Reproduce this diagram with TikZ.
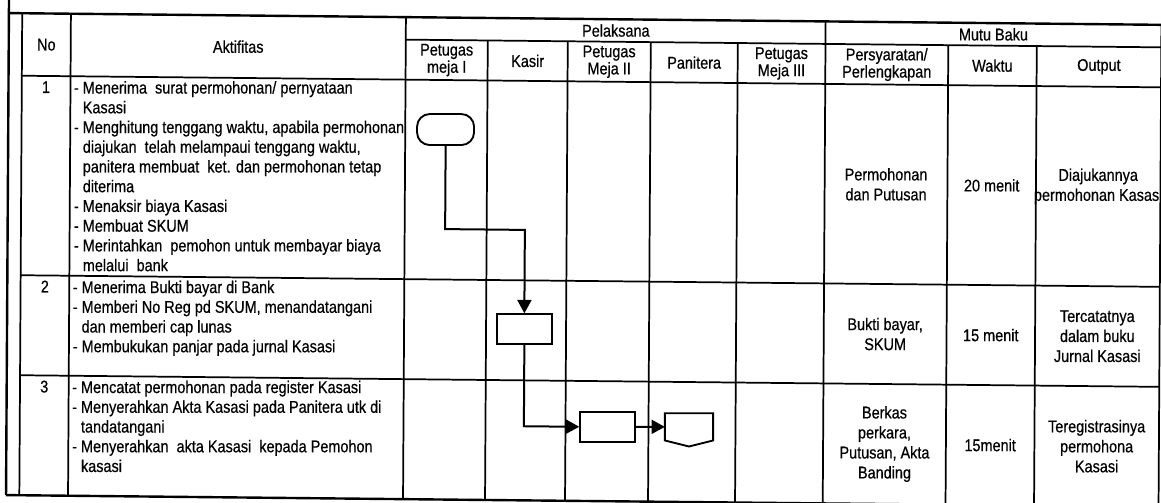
\documentclass[tikz,border=0pt]{standalone}
\usepackage{fontspec}
\setmainfont{Liberation Sans}[FakeStretch=0.85, FakeBold=0.5]
\usetikzlibrary{arrows.meta,calc}
\newcommand\ind{\hphantom{-\ }}
\begin{document}
\begin{tikzpicture}[x=0.75pt,y=-0.75pt,
  tl/.style={line width=1.3pt},
  ol/.style={line width=1.8pt},
  hdr/.style={font=\fontsize{12.75pt}{11.6pt}\selectfont, align=center, inner sep=0},
  cell/.style={font=\fontsize{12.75pt}{15pt}\selectfont, align=center, inner sep=0},
  act/.style={font=\fontsize{12.75pt}{14.8pt}\selectfont, align=left, anchor=north west, inner sep=0},
  num/.style={font=\fontsize{12.75pt}{14.8pt}\selectfont, anchor=base, inner sep=0},
  procbox/.style={draw, line width=1.4pt, minimum width=41.25pt, minimum height=22.5pt, inner sep=0},
  termbox/.style={draw, line width=1.4pt, rounded corners=9.5pt, minimum width=42.75pt, minimum height=23.25pt, inner sep=0},
  offbox/.style={inner sep=0, minimum width=35.8pt, minimum height=20pt},
  flow/.style={line width=1.5pt, -{Triangle[length=10pt,width=10.5pt]}},
]
\fill[white] (0,0) rectangle (1161,503);
\useasboundingbox (0,0) rectangle (1161,503);
\begin{scope}[cm={1,-0.0102,0.006,1,(0,0)}]
% frame and table
\draw[ol] (9,-8) -- (9,495);
\draw[ol] (9,13) -- (1161.5,13);
\draw[ol] (9,495) -- (1161.5,495);
\foreach \xx in {22.3,71,406,825.7,1161.5} \draw[tl] (\xx,13) -- (\xx,495);
\foreach \xx in {488,568,651,738,948.5,1037} \draw[tl] (\xx,35.5) -- (\xx,495);
\draw[tl] (406,35.5) -- (1161.5,35.5);
\foreach \yy in {75.5,275,375} \draw[tl] (22.3,\yy) -- (1161.5,\yy);
% headers
\node[hdr] (hno) at (46.6,44.25) {No};
\node[hdr] (hakt) at (238.5,44.25) {Aktifitas};
\node[hdr] (hpel) at (616,24.25) {Pelaksana};
\node[hdr] (hmutu) at (993.6,24.25) {Mutu Baku};
\node[hdr] (hp1) at (447,55.5) {Petugas\\meja I};
\node[hdr] (hkas) at (528,55.5) {Kasir};
\node[hdr] (hp2) at (609.5,55.5) {Petugas\\Meja II};
\node[hdr] (hpan) at (694.5,55.5) {Panitera};
\node[hdr] (hp3) at (781.8,55.5) {Petugas\\Meja III};
\node[hdr] (hpers) at (887.1,55.5) {Persyaratan/\\Perlengkapan};
\node[hdr] (hwak) at (992.75,55.5) {Waktu};
\node[hdr] (hout) at (1099.25,55.5) {Output};
% numbers
\node[num] (n1) at (46.6,92.5) {1};
\node[num] (n2) at (46.6,292) {2};
\node[num] (n3) at (46.6,392) {3};
% activities
\node[act] (a1) at (74.2,78.7) {\strut- Menerima\ \ surat permohonan/ pernyataan\\
\ind Kasasi\\
- Menghitung tenggang waktu, apabila permohonan\\
\ind diajukan\ \ telah melampaui tenggang waktu,\\
\ind panitera membuat\ \ ket. dan permohonan tetap\\
\ind diterima\\
- Menaksir biaya Kasasi\\
- Membuat SKUM\\
- Merintahkan\ \ pemohon untuk membayar biaya\\
\ind melalui\ \ bank};
\node[act] (a2) at (74.2,278.2) {\strut- Menerima Bukti bayar di Bank\\
- Memberi No Reg pd SKUM, menandatangani\\
\ind dan memberi cap lunas\\
- Membukukan panjar pada jurnal Kasasi};
\node[act] (a3) at (74.2,378.2) {\strut- Mencatat permohonan pada register Kasasi\\
- Menyerahkan Akta Kasasi pada Panitera utk di\\
\ind tandatangani\\
- Menyerahkan\ \ akta Kasasi\ \ kepada Pemohon\\
\ind kasasi};
% mutu baku cells
\node[cell] (r1p) at (887.1,175.25) {Permohonan\\dan Putusan};
\node[cell] (r1w) at (992.75,175.25) {20 menit};
\node[cell] (r1o) at (1099.25,175.25) {Diajukannya\\permohonan Kasasi};
\node[cell] (r2p) at (887.1,325) {Bukti bayar,\\SKUM};
\node[cell] (r2w) at (992.75,325) {15 menit};
\node[cell] (r2o) at (1099.25,325) {Tercatatnya\\dalam buku\\Jurnal Kasasi};
\node[cell] (r3p) at (887.1,435) {Berkas\\perkara,\\Putusan, Akta\\Banding};
\node[cell] (r3w) at (992.75,435) {15menit};
\node[cell] (r3o) at (1099.25,435) {Teregistrasinya\\permohona\\Kasasi};
% flow shapes
\node[termbox] (t1) at (446.3,125) {};
\node[procbox] (k1) at (526.2,323.8) {};
\node[procbox] (p2) at (610.1,420.5) {};
\node[offbox] (off) at (691.4,419.75) {};
\draw[line width=1.4pt, line join=miter] (off.north west) -- (off.north east) -- (off.south east) -- ($(off.south)+(0,6)$) -- (off.south west) -- cycle;
% connectors
\coordinate (c1) at (490,224.5);
\draw[flow] (t1.south) |- (c1) -| (k1.north);
\draw[flow] (k1.south) |- (p2.west);
\draw[flow] (p2.east) -- (off.west);
\end{scope}
\end{tikzpicture}
\end{document}
